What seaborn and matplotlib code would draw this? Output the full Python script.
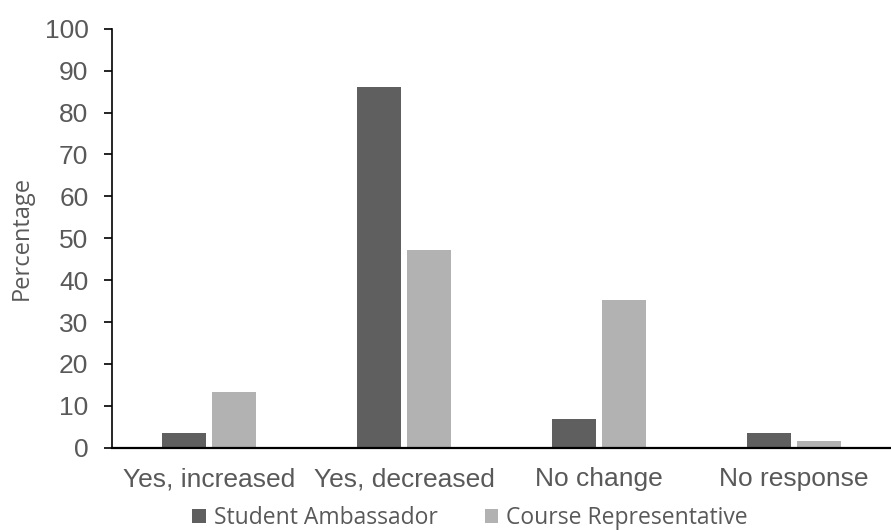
import matplotlib
matplotlib.use("Agg")
import matplotlib.pyplot as plt
import seaborn as sns
import pandas as pd

categories = ["Yes, increased", "Yes, decreased", "No change", "No response"]
series_names = ["Student Ambassador", "Course Representative"]
student_ambassador = [3.4, 86.2, 6.9, 3.4]
course_representative = [13.2, 47.1, 35.3, 1.5]
y_ticks = [0, 10, 20, 30, 40, 50, 60, 70, 80, 90, 100]

df = pd.DataFrame({
    "category": categories * 2,
    "group": [series_names[0]] * 4 + [series_names[1]] * 4,
    "value": student_ambassador + course_representative,
})

sns.set_style("white")
plt.rcParams["font.family"] = ["Liberation Sans", "DejaVu Sans"]

fig = plt.figure(figsize=(8.91, 5.30), dpi=100)
ax = fig.add_axes([112 / 891, 1 - 447.7 / 530, 1 - 112 / 891, (447.7 - 28.7) / 530])

palette = {series_names[0]: "#5f5f5f", series_names[1]: "#b2b2b2"}
sns.barplot(data=df, x="category", y="value", hue="group", order=categories,
            hue_order=series_names, palette=palette, width=0.513, gap=0.12,
            linewidth=0, saturation=1, ax=ax, legend=True)

ax.set_xlim(-0.5, 3.5)
ax.set_ylim(0, 100)
ax.set_yticks(y_ticks)
ax.set_xlabel("")
ax.set_ylabel("Percentage", fontsize=17, color="#595959", family=["Open Sans", "DejaVu Sans"])
ax.yaxis.set_label_coords(-0.101, 0.5)

for s in ["top", "right"]:
    ax.spines[s].set_visible(False)
ax.spines["left"].set_color("black")
ax.spines["bottom"].set_color("black")
ax.spines["left"].set_linewidth(1.2)
ax.spines["bottom"].set_linewidth(1.6)

ax.tick_params(axis="y", which="both", length=6, width=1.2, color="black", direction="out",
               labelsize=19, labelcolor="#595959", left=True, pad=11)
ax.tick_params(axis="x", length=0, labelsize=19, labelcolor="#595959", pad=14)

handles, labels = ax.get_legend_handles_labels()
ax.get_legend().remove()
leg = fig.legend(handles, labels, loc="lower center", bbox_to_anchor=(470 / 891, 0.0),
                 ncol=2, frameon=False, handlelength=0.6, handleheight=0.6,
                 handletextpad=0.35, columnspacing=2.05, borderaxespad=0, borderpad=0,
                 prop={"family": ["Open Sans", "DejaVu Sans"], "size": 16.5})
for t in leg.get_texts():
    t.set_color("#595959")

fig.savefig("out.png", dpi=100)
